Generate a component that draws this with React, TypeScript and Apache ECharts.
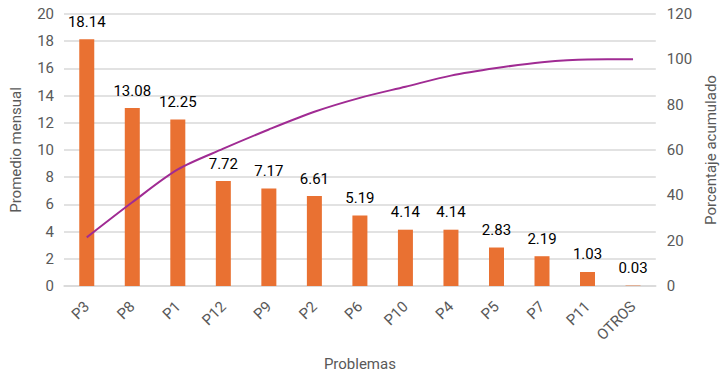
import React, { useEffect, useRef } from "react";
import * as echarts from "echarts";

const categories = ["P3", "P8", "P1", "P12", "P9", "P2", "P6", "P10", "P4", "P5", "P7", "P11", "OTROS"];
const promedio = [18.14, 13.08, 12.25, 7.72, 7.17, 6.61, 5.19, 4.14, 4.14, 2.83, 2.19, 1.03, 0.03];
const acumulado = [21.46, 36.94, 51.43, 60.57, 69.05, 76.87, 83.01, 87.91, 92.81, 96.16, 98.75, 99.96, 100];

const FONT = "Roboto";
const GREY = "#595959";

export default function App() {
  const ref = useRef<HTMLDivElement>(null);
  useEffect(() => {
    const chart = echarts.init(ref.current!, null, { renderer: "svg" });
    chart.setOption({
      animation: false,
      textStyle: { fontFamily: FONT },
      grid: { left: 62, right: 62, top: 14, bottom: 88 },
      xAxis: {
        type: "category",
        data: categories,
        axisLine: { lineStyle: { color: "#d9d9d9", width: 1.5 } },
        axisTick: { show: false },
        axisLabel: { rotate: 45, color: GREY, fontSize: 15, fontFamily: FONT, margin: 18 },
        name: "Problemas",
        nameLocation: "middle",
        nameGap: 70,
        nameTextStyle: { color: GREY, fontSize: 15, fontFamily: FONT },
      },
      yAxis: [
        {
          type: "value",
          min: 0,
          max: 20,
          interval: 2,
          axisLine: { show: false },
          axisTick: { show: false },
          axisLabel: { color: GREY, fontSize: 15, fontFamily: FONT, margin: 10 },
          splitLine: { lineStyle: { color: "#d9d9d9", width: 1.5 } },
          name: "Promedio mensual",
          nameLocation: "middle",
          nameGap: 41,
          nameTextStyle: { color: GREY, fontSize: 15, fontFamily: FONT },
        },
        {
          type: "value",
          min: 0,
          max: 120,
          interval: 20,
          axisLine: { show: false },
          axisTick: { show: false },
          axisLabel: { color: GREY, fontSize: 15, fontFamily: FONT, margin: 11 },
          splitLine: { show: false },
          name: "Porcentaje acumulado",
          nameLocation: "middle",
          nameGap: 45,
          nameRotate: 90,
          nameTextStyle: { color: GREY, fontSize: 15, fontFamily: FONT },
        },
      ],
      series: [
        {
          type: "bar",
          data: promedio,
          barWidth: 15,
          itemStyle: { color: "#E97132" },
          label: {
            show: true,
            position: "top",
            distance: 10,
            color: "#000",
            fontSize: 15,
            fontFamily: FONT,
            formatter: (p: any) => p.value.toFixed(2),
          },
        },
        {
          type: "line",
          yAxisIndex: 1,
          data: acumulado,
          smooth: 0.3,
          showSymbol: false,
          symbol: "none",
          lineStyle: { color: "#A02B93", width: 2 },
        },
      ],
    });
    return () => chart.dispose();
  }, []);
  return <div ref={ref} style={{ width: 726, height: 376, position: "absolute", left: 0, top: 0 }} />;
}
